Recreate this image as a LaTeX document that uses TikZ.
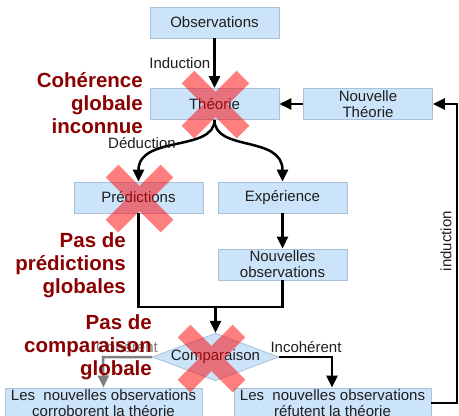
\documentclass[tikz,border=0pt]{standalone}
\usepackage{fontspec}
\setmainfont{Liberation Sans}
\usetikzlibrary{arrows.meta,shapes.geometric}
\definecolor{boxfill}{RGB}{204,228,250}
\definecolor{boxline}{RGB}{170,192,214}
\definecolor{darkred}{RGB}{139,0,0}
\definecolor{txt}{RGB}{30,30,30}
\definecolor{greyline}{RGB}{128,128,128}
\begin{document}
\begin{tikzpicture}[x=1pt,y=-1pt,
  box/.style={draw=boxline, line width=0.8pt, fill=boxfill, minimum width=129pt, minimum height=31pt, inner sep=0pt, font=\fontsize{15}{16}\selectfont, text=txt, align=center},
  widebox/.style={box, minimum width=197pt, minimum height=0pt, inner ysep=1.5pt},
  decision/.style={diamond, draw=boxline, line width=0.8pt, fill=boxfill, minimum width=125pt, minimum height=47pt, inner sep=0pt, aspect=2.66, font=\fontsize{15}{17}\selectfont, text=txt},
  arr/.style={line width=2.5pt, -{Triangle[length=12pt,width=11pt]}},
  greyarr/.style={line width=2.5pt, draw=greyline, -{Triangle[length=12pt,width=11pt]}},
  lbl/.style={font=\fontsize{15}{17}\selectfont, text=txt, inner sep=0pt},
  redlbl/.style={font=\bfseries\fontsize{20.5}{23}\selectfont, text=darkred, align=right, inner sep=0pt},
  crossbar/.style={line width=18pt, draw=red}
]
\useasboundingbox (0,0) rectangle (459,416);

% nodes
\node[box] (obs) at (214.5,22.5) {Observations};
\node[box] (theo) at (214.5,104) {Théorie};
\node[box] (nth) at (368,104) {Nouvelle\\Théorie};
\node[box] (pred) at (138.5,197.5) {Prédictions};
\node[box] (exp) at (282.5,197.5) {Expérience};
\node[box] (nobs) at (282.5,264.5) {Nouvelles\\observations};
\node[decision] (comp) at (215.5,357) {Comparaison};
\node[widebox, anchor=north] (corr) at (103.5,387.5) {Les\ \ nouvelles observations\\corroborent la théorie};
\node[widebox, anchor=north] (ref) at (332.5,387.5) {Les\ \ nouvelles observations\\réfutent la théorie};

% connector helper coordinates
\coordinate (jl) at (pred.south |- 0,307);
\coordinate (jr) at (nobs.south |- 0,307);
\coordinate (jm) at (comp.north |- 0,307);
\coordinate (rr) at (457,403);
\coordinate (rt) at (457,104);
\coordinate (cl) at (103,357);
\coordinate (cr) at (332,357);

% connectors
\draw[arr] (obs.south) -- node[lbl, left=3pt, pos=0.5] {Induction} (theo.north);
\draw[arr] (nth.west) -- (theo.east);
\draw[arr] (theo.south) .. controls (214.5,152) and (138.5,135) .. (pred.north);
\draw[arr] (theo.south) .. controls (214.5,152) and (282.5,135) .. (exp.north);
\node[lbl] (ded) at (142,143) {Déduction};
\draw[arr] (exp.south) -- (nobs.north);
\draw[line width=2.5pt, line join=miter] (pred.south) -- (jl) -- (jr) -- (nobs.south);
\draw[arr] (jm) -- (comp.north);
\draw[arr, line join=miter] (comp.east) -- (cr) -- (ref.north -| cr);
\node[lbl] (inc) at (306,347) {Incohérent};
\draw[greyarr, line join=miter] (comp.west) -- (cl) -- (corr.north);
\node[lbl, text=greyline] (coh) at (127,347) {Cohérent};
\draw[arr, line join=miter] (ref.east |- rr) -- (rr) -- (rt) -- (nth.east);
\node[lbl, rotate=90] (indr) at (446,241) {induction};

% red crosses
\begin{scope}[transparency group, opacity=0.5]
  \draw[crossbar] (188,77) -- (243,132);
  \draw[crossbar] (188,132) -- (243,77);
\end{scope}
\begin{scope}[transparency group, opacity=0.5]
  \draw[crossbar] (112,171) -- (167,226);
  \draw[crossbar] (112,226) -- (167,171);
\end{scope}
\begin{scope}[transparency group, opacity=0.5]
  \draw[crossbar] (184,331) -- (239,386);
  \draw[crossbar] (184,386) -- (239,331);
\end{scope}

% red labels
\node[redlbl, anchor=east] (l1) at (143,103) {Cohérence\\globale\\inconnue};
\node[redlbl, anchor=east] (l2) at (126,265) {Pas de\\prédictions\\globales};
\node[redlbl, anchor=east] (l3) at (152,347) {Pas de\\comparaison\\globale};
\end{tikzpicture}
\end{document}
